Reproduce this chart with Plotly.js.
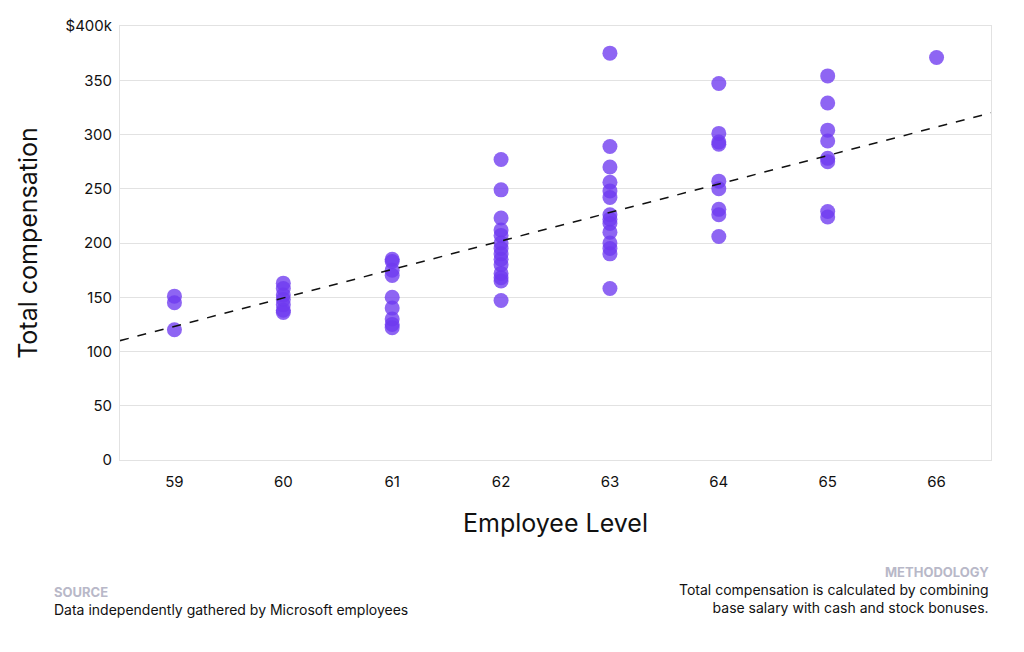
<!DOCTYPE html><html><head><script src="https://cdn.plot.ly/plotly-3.0.1.min.js"></script>
<style>body{margin:0;background:#fff}</style></head><body><div id="c" style="width:1024px;height:652px"></div><script>
const levels=[59,60,61,62,63,64,65,66];
const comp={
59:[151,145,120],
60:[163,158,152,148,143,138,136],
61:[185,183,175,170,150,140,130,125,122],
62:[277,249,223,212,207,200,195,190,185,180,172,168,165,147],
63:[375,289,270,256,248,242,226,222,218,210,200,195,190,158],
64:[347,301,293,291,257,250,231,226,206],
65:[354,329,304,294,278,275,229,224],
66:[371]};
const trendX=[58.5,66.5], trendY=[110,320];
const yTicks=[0,50,100,150,200,250,300,350,400];
const yLabels=['0','50','100','150','200','250','300','350','$400k'];
let xs=[],ys=[];levels.forEach(l=>comp[l].forEach(v=>{xs.push(l);ys.push(v)}));
const F="Inter, sans-serif";
Plotly.newPlot('c',[
{x:xs,y:ys,mode:'markers',type:'scatter',marker:{size:15,color:'rgba(110,58,240,0.78)'},hoverinfo:'skip'},
{x:trendX,y:trendY,mode:'lines',line:{color:'#111',dash:'dash',width:1.5}}
],{width:1024,height:652,showlegend:false,paper_bgcolor:'#fff',plot_bgcolor:'#fff',
margin:{l:120,r:33,t:26,b:192},font:{family:F,color:'#111'},
xaxis:{range:[58.5,66.5],tickvals:levels,showgrid:false,zeroline:false,showline:true,mirror:true,linecolor:'#e2e2e2',ticks:'outside',ticklen:8,tickcolor:'rgba(0,0,0,0)',tickfont:{size:15},
 title:{text:'Employee Level',font:{size:25},standoff:24}},
yaxis:{range:[0,400],tickvals:yTicks,ticktext:yLabels,gridcolor:'#e2e2e2',zeroline:false,showline:true,mirror:true,linecolor:'#e2e2e2',tickfont:{size:15},ticks:'outside',ticklen:4,tickcolor:'rgba(0,0,0,0)',
 title:{text:'Total compensation',font:{size:25},standoff:20}},
annotations:[
{xref:'paper',yref:'paper',x:-0.078,y:-0.28,xanchor:'left',yanchor:'top',showarrow:false,align:'left',text:'<b>SOURCE</b>',font:{size:13,color:'#b8b8c8'}},
{xref:'paper',yref:'paper',x:-0.078,y:-0.32,xanchor:'left',yanchor:'top',showarrow:false,align:'left',text:'Data independently gathered by Microsoft employees',font:{size:14}},
{xref:'paper',yref:'paper',x:1,y:-0.235,xanchor:'right',yanchor:'top',showarrow:false,align:'right',text:'<b>METHODOLOGY</b>',font:{size:13,color:'#b8b8c8'}},
{xref:'paper',yref:'paper',x:1,y:-0.275,xanchor:'right',yanchor:'top',showarrow:false,align:'right',text:'Total compensation is calculated by combining<br>base salary with cash and stock bonuses.',font:{size:14}}
]},{staticPlot:true});
</script></body></html>
